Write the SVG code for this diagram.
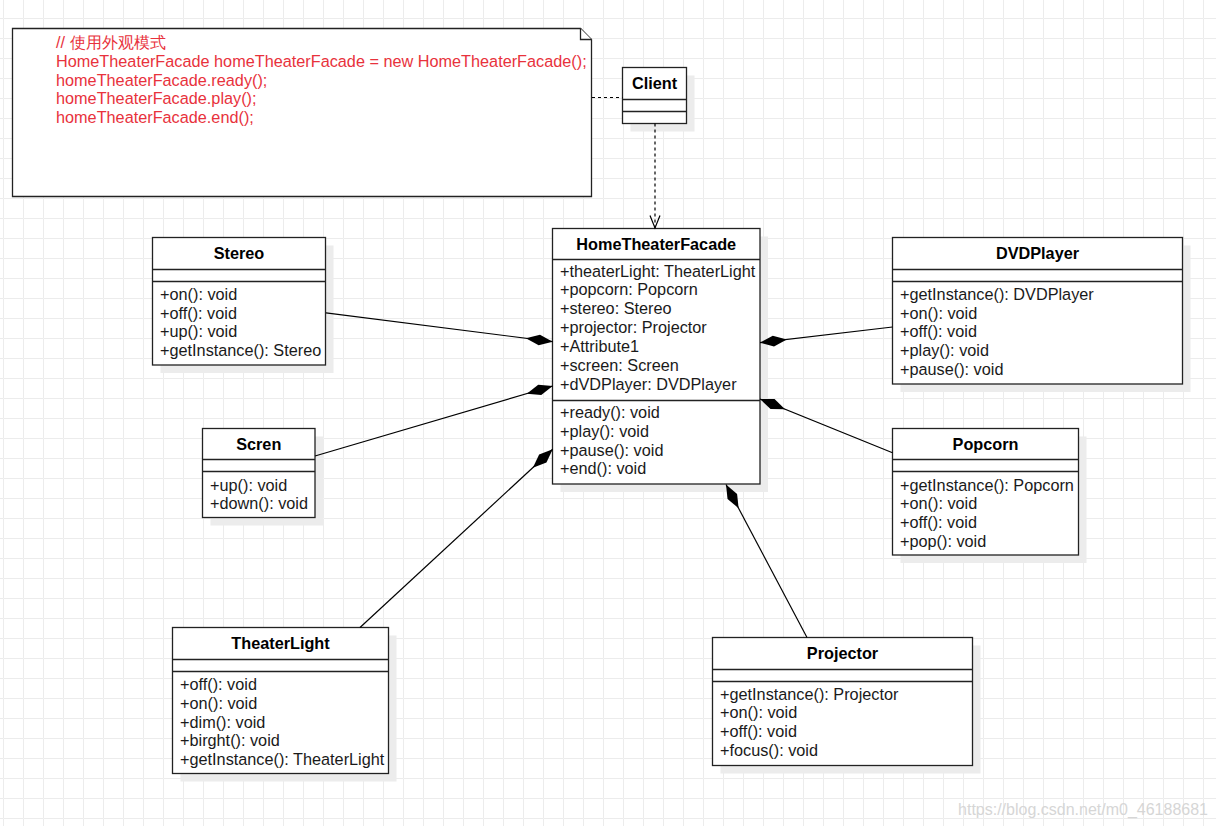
<svg xmlns="http://www.w3.org/2000/svg" width="1216" height="826" viewBox="0 0 1216 826">
<style>
text{font-family:"Liberation Sans",Arial,sans-serif;font-size:16.25px;fill:#1a1a1a}
.t{font-weight:bold;text-anchor:middle;fill:#000}
.box{fill:#fff;stroke:#222;stroke-width:1.3}
.sh{fill:#ececec}
.div{stroke:#222;stroke-width:1.3}
.note{fill:#fff;stroke:#222;stroke-width:1.3}
.nt{fill:#e8323c}
.edge{fill:none;stroke:#000;stroke-width:1.2}
.dash{fill:none;stroke:#000;stroke-width:1.2;stroke-dasharray:3 3}
.wm{fill:#d6d6d6;font-size:16px}
</style>
<defs>
<pattern id="grid" x="3" y="18" width="20" height="20" patternUnits="userSpaceOnUse">
<path d="M20 0.5 L0.5 0.5 L0.5 20" fill="none" stroke="#ececec" stroke-width="1"/>
</pattern>
<marker id="dia" markerUnits="userSpaceOnUse" markerWidth="30" markerHeight="12" refX="0" refY="6" orient="auto" overflow="visible">
<path d="M0 6 L13.5 0.6 L27 6 L13.5 11.4 Z" fill="#000"/>
</marker>
<marker id="open" markerUnits="userSpaceOnUse" markerWidth="14" markerHeight="12" refX="13" refY="6" orient="auto" overflow="visible">
<path d="M0.5 1 L13 6 L0.5 11" fill="none" stroke="#000" stroke-width="1.2"/>
</marker>
</defs>
<rect width="1216" height="826" fill="#fff"/>
<rect width="1216" height="826" fill="url(#grid)"/>

<g id="note">
<path class="note" d="M12.5 28.5 L580.5 28.5 L591.5 39.5 L591.5 196.5 L12.5 196.5 Z"/>
<path class="note" d="M580.5 28.5 L580.5 39.5 L591.5 39.5" fill="none"/>
<text class="nt" x="56" y="48.3">// 使用外观模式<tspan x="56" dy="18.7">HomeTheaterFacade homeTheaterFacade = new HomeTheaterFacade();</tspan><tspan x="56" dy="18.7">homeTheaterFacade.ready();</tspan><tspan x="56" dy="18.7">homeTheaterFacade.play();</tspan><tspan x="56" dy="18.7">homeTheaterFacade.end();</tspan></text>
</g>

<g id="client" transform="translate(622.5,67.5)">
<rect class="sh" x="8" y="8" width="64" height="56"/>
<rect class="box" width="64" height="56"/>
<text class="t" x="32" y="21.5">Client</text>
<path class="div" d="M0 32 H64 M0 44 H64"/>
</g>

<g id="homeTheaterFacade" transform="translate(552.5,228.5)">
<rect class="sh" x="8" y="8" width="207.5" height="255.5"/>
<rect class="box" width="207.5" height="255.5"/>
<text class="t" x="103.75" y="21">HomeTheaterFacade</text>
<path class="div" d="M0 31 H207.5 M0 172 H207.5"/>
<text x="7.5" y="48.1">+theaterLight: TheaterLight<tspan x="7.5" dy="18.85">+popcorn: Popcorn</tspan><tspan x="7.5" dy="18.85">+stereo: Stereo</tspan><tspan x="7.5" dy="18.85">+projector: Projector</tspan><tspan x="7.5" dy="18.85">+Attribute1</tspan><tspan x="7.5" dy="18.85">+screen: Screen</tspan><tspan x="7.5" dy="18.85">+dVDPlayer: DVDPlayer</tspan></text>
<text x="7.5" y="189.8">+ready(): void<tspan x="7.5" dy="18.6">+play(): void</tspan><tspan x="7.5" dy="18.6">+pause(): void</tspan><tspan x="7.5" dy="18.6">+end(): void</tspan></text>
</g>

<g id="stereo" transform="translate(152.5,237.5)">
<rect class="sh" x="8" y="8" width="173" height="127.5"/>
<rect class="box" width="173" height="127.5"/>
<text class="t" x="86.5" y="21.5">Stereo</text>
<path class="div" d="M0 32 H173 M0 44 H173"/>
<text x="7.5" y="62.5">+on(): void<tspan x="7.5" dy="18.67">+off(): void</tspan><tspan x="7.5" dy="18.67">+up(): void</tspan><tspan x="7.5" dy="18.67">+getInstance(): Stereo</tspan></text>
</g>

<g id="scren" transform="translate(202.5,428.5)">
<rect class="sh" x="8" y="8" width="112.5" height="89"/>
<rect class="box" width="112.5" height="89"/>
<text class="t" x="56.25" y="21.5">Scren</text>
<path class="div" d="M0 31 H112.5 M0 43 H112.5"/>
<text x="7.5" y="62">+up(): void<tspan x="7.5" dy="18.67">+down(): void</tspan></text>
</g>

<g id="dvdPlayer" transform="translate(892.5,237.5)">
<rect class="sh" x="8" y="8" width="290" height="146.5"/>
<rect class="box" width="290" height="146.5"/>
<text class="t" x="145" y="21.5">DVDPlayer</text>
<path class="div" d="M0 32 H290 M0 44 H290"/>
<text x="7.5" y="62.5">+getInstance(): DVDPlayer<tspan x="7.5" dy="18.67">+on(): void</tspan><tspan x="7.5" dy="18.67">+off(): void</tspan><tspan x="7.5" dy="18.67">+play(): void</tspan><tspan x="7.5" dy="18.67">+pause(): void</tspan></text>
</g>

<g id="popcorn" transform="translate(892.5,428.5)">
<rect class="sh" x="8" y="8" width="186" height="126.5"/>
<rect class="box" width="186" height="126.5"/>
<text class="t" x="93" y="21.5">Popcorn</text>
<path class="div" d="M0 31 H186 M0 43 H186"/>
<text x="7.5" y="62">+getInstance(): Popcorn<tspan x="7.5" dy="18.67">+on(): void</tspan><tspan x="7.5" dy="18.67">+off(): void</tspan><tspan x="7.5" dy="18.67">+pop(): void</tspan></text>
</g>

<g id="theaterLight" transform="translate(172.5,627.5)">
<rect class="sh" x="8" y="8" width="216" height="146"/>
<rect class="box" width="216" height="146"/>
<text class="t" x="108" y="21.5">TheaterLight</text>
<path class="div" d="M0 32 H216 M0 44 H216"/>
<text x="7.5" y="62.8">+off(): void<tspan x="7.5" dy="18.6">+on(): void</tspan><tspan x="7.5" dy="18.6">+dim(): void</tspan><tspan x="7.5" dy="18.6">+birght(): void</tspan><tspan x="7.5" dy="18.6">+getInstance(): TheaterLight</tspan></text>
</g>

<g id="projector" transform="translate(712.5,637.5)">
<rect class="sh" x="8" y="8" width="260" height="128"/>
<rect class="box" width="260" height="128"/>
<text class="t" x="130" y="21.5">Projector</text>
<path class="div" d="M0 32 H260 M0 44 H260"/>
<text x="7.5" y="62">+getInstance(): Projector<tspan x="7.5" dy="18.67">+on(): void</tspan><tspan x="7.5" dy="18.67">+off(): void</tspan><tspan x="7.5" dy="18.67">+focus(): void</tspan></text>
</g>

<g id="connectors">
<path class="dash" d="M592 97.5 L622.5 97.5"/>
<path class="dash" d="M655 123.5 L655 228" marker-end="url(#open)"/>
<path class="edge" d="M552.7 341.7 L326 312.8" marker-start="url(#dia)"/>
<path class="edge" d="M552.7 386 L315 456" marker-start="url(#dia)"/>
<path class="edge" d="M552.7 449.3 L360 627.5" marker-start="url(#dia)"/>
<path class="edge" d="M760 342.7 L892.5 327" marker-start="url(#dia)"/>
<path class="edge" d="M760 399 L892.5 452.7" marker-start="url(#dia)"/>
<path class="edge" d="M726 484.5 L807 637.5" marker-start="url(#dia)"/>
</g>

<text class="wm" x="1208" y="815" text-anchor="end">https://blog.csdn.net/m0_46188681</text>
</svg>
